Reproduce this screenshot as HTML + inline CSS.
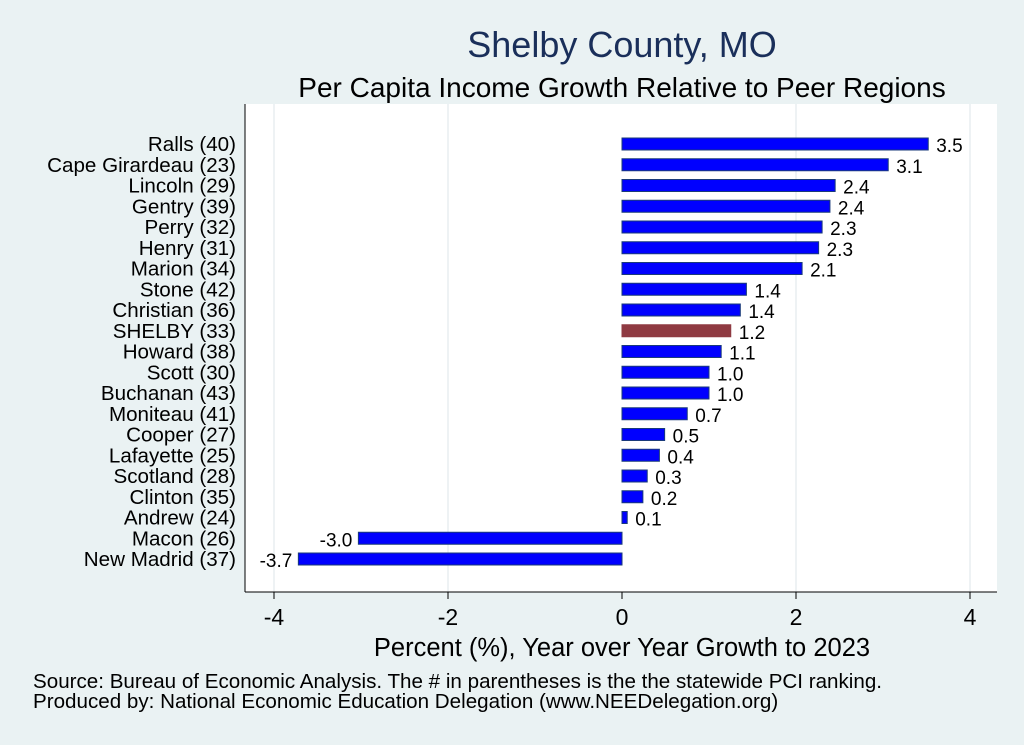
<!DOCTYPE html>
<html><head><meta charset="utf-8"><style>
body{margin:0;background:#eaf2f3;}
svg{display:block;font-family:"Liberation Sans",Arial,sans-serif;}
</style></head><body>
<svg id="chart" width="1024" height="745">
<rect x="0" y="0" width="1024" height="745" fill="#eaf2f3"/>
<rect x="245" y="104" width="752" height="488" fill="#ffffff"/>
<text x="622" y="57" font-size="36" fill="#1a2f5a" text-anchor="middle">Shelby County, MO</text>
<text x="622" y="97" font-size="28" fill="#000" text-anchor="middle">Per Capita Income Growth Relative to Peer Regions</text>
<g id="grid"></g><g id="bars"></g><g id="labels"></g><g id="axis"></g>
<text x="622" y="656" font-size="25.5" fill="#000" text-anchor="middle">Percent (%), Year over Year Growth to 2023</text>
<text x="33" y="688" font-size="20.6" fill="#000">Source: Bureau of Economic Analysis. The # in parentheses is the the statewide PCI ranking.</text>
<text x="33" y="708" font-size="20.6" fill="#000">Produced by: National Economic Education Delegation (www.NEEDelegation.org)</text>
</svg>
<script>
const categories=["Ralls (40)","Cape Girardeau (23)","Lincoln (29)","Gentry (39)","Perry (32)","Henry (31)","Marion (34)","Stone (42)","Christian (36)","SHELBY (33)","Howard (38)","Scott (30)","Buchanan (43)","Moniteau (41)","Cooper (27)","Lafayette (25)","Scotland (28)","Clinton (35)","Andrew (24)","Macon (26)","New Madrid (37)"];
const values=[3.52,3.06,2.45,2.39,2.30,2.26,2.07,1.43,1.36,1.25,1.14,1.0,1.0,0.75,0.49,0.43,0.29,0.24,0.06,-3.03,-3.72];
const valueLabels=["3.5","3.1","2.4","2.4","2.3","2.3","2.1","1.4","1.4","1.2","1.1","1.0","1.0","0.7","0.5","0.4","0.3","0.2","0.1","-3.0","-3.7"];
const ticks=[-4,-2,0,2,4];
const NS="http://www.w3.org/2000/svg";
function x(v){return 622+v*87;}
function y(i){return 144+i*20.75;}
function mk(tag,attrs,parent,text){const e=document.createElementNS(NS,tag);for(const k in attrs)e.setAttribute(k,attrs[k]);if(text!==undefined)e.textContent=text;document.getElementById(parent).appendChild(e);return e;}
ticks.forEach(t=>{
 if(t!==0){const g=mk('line',{x1:x(t),x2:x(t),y1:104,y2:592,stroke:'#e8eef0','stroke-width':1.5},'grid');
 
 }
 const tl=mk('line',{x1:x(t),x2:x(t),y1:592,y2:599,stroke:'#000'},'axis');
 
 
 const tt=mk('text',{x:x(t),y:625,'font-size':23,'text-anchor':'middle'},'axis',String(t));
 
 
});
const ax=mk('line',{x1:245,x2:997,y1:592,y2:592,stroke:'#000'},'axis');


const ay=mk('line',{x1:245,x2:245,y1:104,y2:592,stroke:'#000'},'axis');


categories.forEach((c,i)=>{
 const v=values[i];
 const shelby=c.startsWith('SHELBY');
 const b=mk('rect',{x:Math.min(x(0),x(v)),y:y(i)-6,width:Math.abs(x(v)-x(0)),height:12,fill:shelby?'#8f3a42':'#0000ff',stroke:shelby?'#8f3a42':'#1a3a7a','stroke-width':1},'bars');
 
 
 const cl=mk('text',{x:236,y:y(i)+7,'font-size':20.6,'text-anchor':'end'},'labels',c);
 
 
 const vl=mk('text',{x:v>=0?x(v)+8:x(v)-6,y:y(i)+8,'font-size':19,'text-anchor':v>=0?'start':'end'},'labels',valueLabels[i]);
 
 
});
</script>
</body></html>
